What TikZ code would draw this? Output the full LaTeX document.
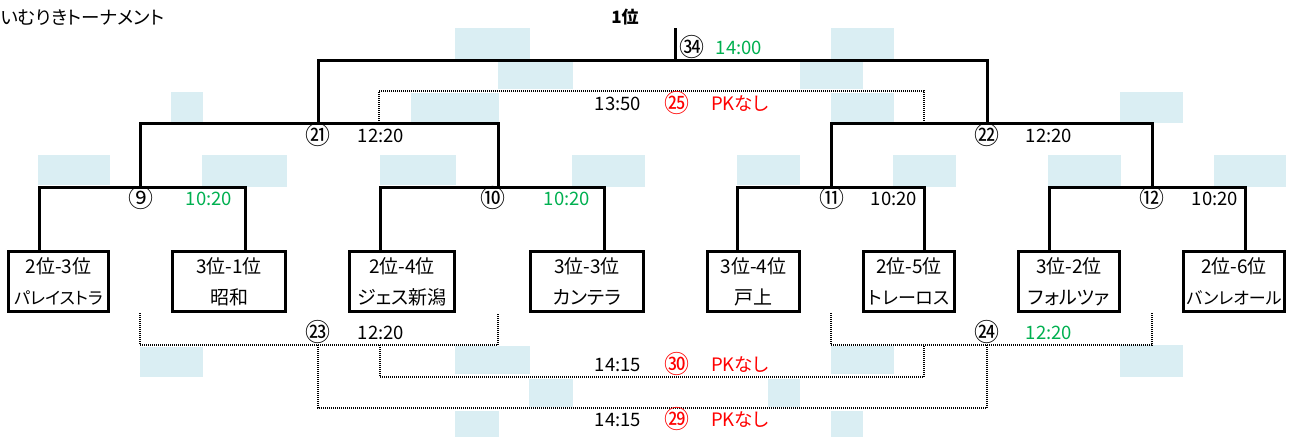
\documentclass[tikz,border=0pt]{standalone}
\usepackage{fontspec}
\setmainfont[RawFeature=+palt]{Noto Sans CJK JP}
\definecolor{blue1}{HTML}{DAEEF3}
\definecolor{green9}{HTML}{00B050}
\definecolor{red9}{HTML}{FF0000}

\begin{document}
\begin{tikzpicture}[x=1pt,y=-1pt,
  line/.style={line width=3pt},
  dots/.style={line width=2.5pt,dash pattern=on 1pt off 1pt},
  team/.style={draw,line width=3pt,minimum height=60pt,inner sep=0pt,align=center,font=\fontsize{19}{31}\selectfont},
  lbl/.style={font=\fontsize{18.5}{18.5}\selectfont,inner sep=0pt},
  circ/.style={font=\fontsize{25}{25}\selectfont,inner sep=0pt}]
\useasboundingbox (0,0) rectangle (1294,437);
% shaded cells
\foreach \xa/\ya/\xb/\yb in {171/92/203/122, 38/155/110/185, 202/155/287/187, 380/155/456/185,
    411/93/499/122, 455/28/530/59, 498/62/573/89, 572/155/645/187, 737/155/800/185,
    831/28/894/59, 800/62/863/89, 831/93/894/122, 1120/92/1183/123, 893/155/956/187,
    1048/155/1121/187, 1214/155/1286/187, 140/347/203/377, 455/346/530/374,
    529/379/573/407, 455/411/499/437, 768/379/800/407, 831/346/894/374,
    831/411/863/437, 1120/345/1183/377}
  \fill [blue1] (\xa,\ya) rectangle (\xb,\yb);

\node [anchor=west,font=\fontsize{18.5}{18.5}\selectfont,inner sep=0pt] (title) at (0.5,18) {いむりきトーナメント};
\node [font=\fontsize{17}{17}\selectfont\bfseries,inner sep=0pt] (first) at (625,17) {1位};

% teams
\node [team,minimum width=100pt] (b1) at (58.5,281.5) {2位-3位\\{\fontsize{17}{31}\selectfont パレイストラ}};
\node [team,minimum width=113pt] (b2) at (229,281.5) {3位-1位\\昭和};
\node [team,minimum width=105pt] (b3) at (402,281.5) {2位-4位\\ジェス新潟};
\node [team,minimum width=113pt] (b4) at (587,281.5) {3位-3位\\カンテラ};
\node [team,minimum width=92pt] (b5) at (753.5,281.5) {3位-4位\\戸上};
\node [team,minimum width=91pt] (b6) at (909,281.5) {2位-5位\\{\fontsize{18}{31}\selectfont トレーロス}};
\node [team,minimum width=101pt] (b7) at (1069,281.5) {3位-2位\\フォルツァ};
\node [team,minimum width=101pt] (b8) at (1234,281.5) {2位-6位\\{\fontsize{17}{31}\selectfont バンレオール}};

% bracket points
\coordinate (l9) at (39,187); \coordinate (m9) at (140,187); \coordinate (r9) at (245,187);
\coordinate (l10) at (380,187); \coordinate (m10) at (498,187); \coordinate (r10) at (604,187);
\coordinate (l11) at (737,187); \coordinate (m11) at (831,187); \coordinate (r11) at (924,187);
\coordinate (l12) at (1049,187); \coordinate (m12) at (1152,187); \coordinate (r12) at (1245,187);
\coordinate (m21) at (318,123); \coordinate (m22) at (987,123);
\coordinate (m34) at (675,60); \coordinate (top) at (675,28);
\coordinate (c25l) at (379,91); \coordinate (c25r) at (924,91);
\coordinate (c23l) at (140,345); \coordinate (m23) at (318,345); \coordinate (c23r) at (498,345);
\coordinate (c24l) at (831,345); \coordinate (m24) at (987,345); \coordinate (c24r) at (1152,345);
\coordinate (l30) at (380,377); \coordinate (r30) at (924,377);
\coordinate (l29) at (318,408); \coordinate (r29) at (987,408);

% consolation matches
\draw [dots] (c25l |- m21) -- (c25l) -- (c25r) -- (c25r |- m21);
\draw [dots] (c23l |- b1.south) -- (c23l) -- (c23r) -- (c23r |- b1.south);
\draw [dots] (c24l |- b1.south) -- (c24l) -- (c24r) -- (c24r |- b1.south);
\draw [dots] (m23) -- (l29) -- (r29) -- (m24);
\draw [dots] (m23 -| l30) -- (l30) -- (r30) -- (r30 |- m24);

% main bracket
\draw [line] (b1.north -| l9) -- (l9) -- (r9) -- (b2.north -| r9);
\draw [line] (b3.north -| l10) -- (l10) -- (r10) -- (b4.north -| r10);
\draw [line] (b5.north -| l11) -- (l11) -- (r11) -- (b6.north -| r11);
\draw [line] (b7.north -| l12) -- (l12) -- (r12) -- (b8.north -| r12);
\draw [line] (m9) |- (m21) -| (m10);
\draw [line] (m11) |- (m22) -| (m12);
\draw [line] (m21) |- (m34) -| (m22);
\draw [line] (m34) -- (top);

% match numbers and times
\node [circ] (n34) at (692,47) {㉞};
\node [lbl,green9] (t34) at (739,48) {14:00};
\node [lbl] (t25) at (618,104) {13:50};
\node [circ,red9] (n25) at (677,103) {㉕};
\node [lbl,red9] (pk25) at (740,104) {PKなし};
\node [circ] (n21) at (318,135) {㉑};
\node [lbl] (t21) at (381,136) {12:20};
\node [circ] (n22) at (987,135) {㉒};
\node [lbl] (t22) at (1049,136) {12:20};
\node [circ] (n9) at (141,198) {⑨};
\node [lbl,green9] (t9) at (209,199) {10:20};
\node [circ] (n10) at (493,198) {⑩};
\node [lbl,green9] (t10) at (567,199) {10:20};
\node [circ] (n11) at (832,198) {⑪};
\node [lbl] (t11) at (894,199) {10:20};
\node [circ] (n12) at (1152,198) {⑫};
\node [lbl] (t12) at (1215,199) {10:20};
\node [circ] (n23) at (318,332) {㉓};
\node [lbl] (t23) at (381,333) {12:20};
\node [circ] (n24) at (987,332) {㉔};
\node [lbl,green9] (t24) at (1049,333) {12:20};
\node [lbl] (t30) at (618,365) {14:15};
\node [circ,red9] (n30) at (677,364) {㉚};
\node [lbl,red9] (pk30) at (740,365) {PKなし};
\node [lbl] (t29) at (618,420) {14:15};
\node [circ,red9] (n29) at (677,419) {㉙};
\node [lbl,red9] (pk29) at (740,420) {PKなし};
\end{tikzpicture}
\end{document}
